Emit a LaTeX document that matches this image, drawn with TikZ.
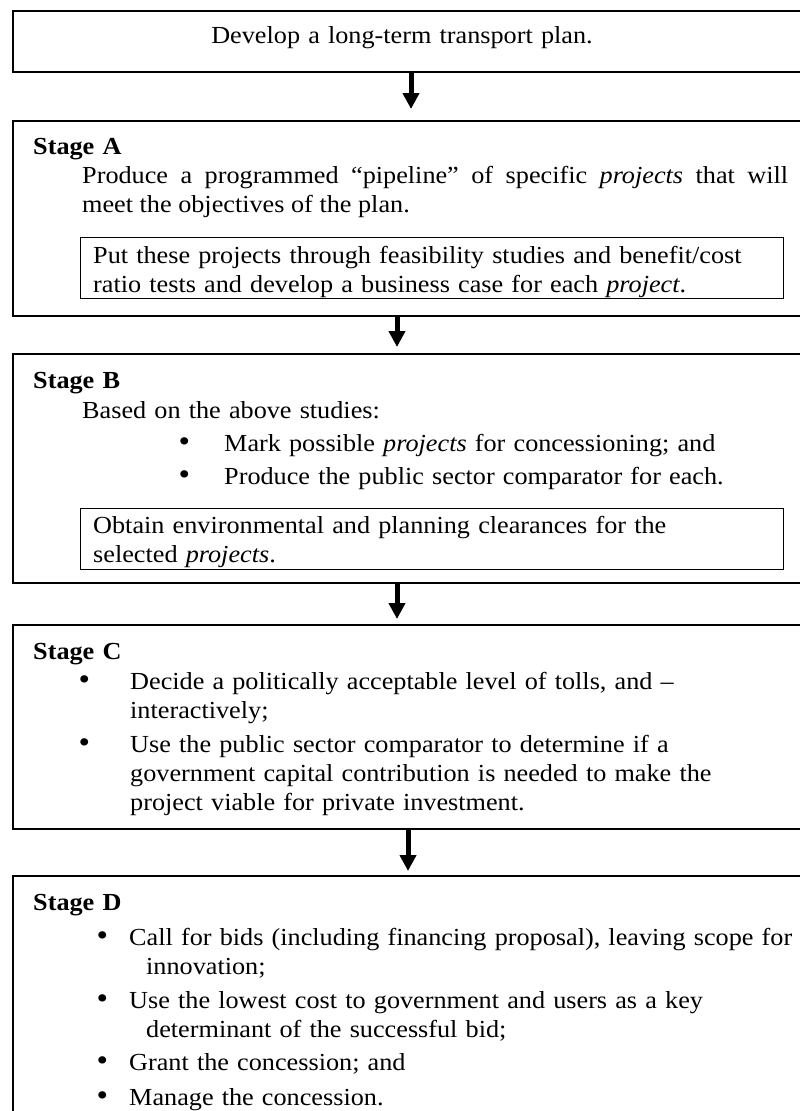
\documentclass[tikz,border=0pt]{standalone}
\usepackage{fontspec}
\setmainfont{Liberation Serif}[FakeStretch=1.07]
\usetikzlibrary{arrows.meta}
\newcommand{\bul}[1]{\llap{\scalebox{1.25}{\textbullet}\hspace{#1}}}
\tikzset{
 stagebox/.style={draw, line width=2pt, anchor=north west, minimum width=820pt, inner sep=0pt},
 taskbox/.style={draw, line width=1.2pt, anchor=north west, minimum width=703pt, inner sep=0pt},
 txt/.style={anchor=base west, inner sep=0pt, text width=700pt, align=left, font=\fontsize{24.5}{29}\selectfont},
 flow/.style={line width=5pt, -{Triangle[width=16pt,length=16pt]}}
}

\begin{document}
\begin{tikzpicture}[x=1pt,y=-1pt]
\useasboundingbox (0,0) rectangle (800,1111);
\node[stagebox, minimum height=61pt] (plan) at (12,10) {};
\node[stagebox, minimum height=195pt] (stageA) at (12,120) {};
\node[stagebox, minimum height=229pt] (stageB) at (12,353) {};
\node[stagebox, minimum height=204pt] (stageC) at (12,624) {};
\node[stagebox, minimum height=260pt] (stageD) at (12,875) {};
\node[taskbox, minimum height=61pt] (taskA) at (80,237) {};
\node[taskbox, minimum height=61pt] (taskB) at (80,508) {};
\foreach \a/\b/\dx/\gap in {plan/stageA/399/11, stageA/stageB/385/6, stageB/stageC/385/5, stageC/stageD/396/4} {
 \draw[flow, shorten >=\gap pt] ([xshift=\dx pt]\a.south west) -- ([xshift=\dx pt]\b.north west);
}
\node[txt, anchor=base, align=center] (plantxt) at (402,43) {Develop a long-term transport plan.};
\foreach \s/\y in {A/154,B/388,C/659,D/910} {
 \node[txt, font=\fontsize{24.5}{29}\selectfont\bfseries] (head\s) at (33,\y) {Stage \s};
}
\node[txt, text width=706pt, align=justify] (pipeline) at (82,183)
 {Produce a programmed “pipeline” of specific \emph{projects} that will\linebreak meet the objectives of the plan.};
\node[txt] (feasible) at (93,263) {Put these projects through feasibility studies and benefit/cost\\ratio tests and develop a business case for each \emph{project}.};
\node[txt] (based) at (82,418) {Based on the above studies:};
\node[txt] (mark) at (224,451) {\bul{34pt}Mark possible \emph{projects} for concessioning; and};
\node[txt] (psc) at (224,484) {\bul{34pt}Produce the public sector comparator for each.};
\node[txt] (clear) at (93,533) {Obtain environmental and planning clearances for the\\selected \emph{projects}.};
\node[txt] (tolls) at (130,689) {\bul{40pt}Decide a politically acceptable level of tolls, and –\\interactively;};
\node[txt] (capital) at (130,752) {\bul{40pt}Use the public sector comparator to determine if a\\government capital contribution is needed to make the\\project viable for private investment.};
\node[txt] (bids) at (129,945) {\bul{21pt}Call for bids (including financing proposal), leaving scope for\\\hspace*{17pt}innovation;};
\node[txt] (lowest) at (129,1008) {\bul{21pt}Use the lowest cost to government and users as a key\\\hspace*{17pt}determinant of the successful bid;};
\node[txt] (grant) at (129,1070) {\bul{21pt}Grant the concession; and};
\node[txt] (manage) at (129,1105) {\bul{21pt}Manage the concession.};
\end{tikzpicture}
\end{document}
